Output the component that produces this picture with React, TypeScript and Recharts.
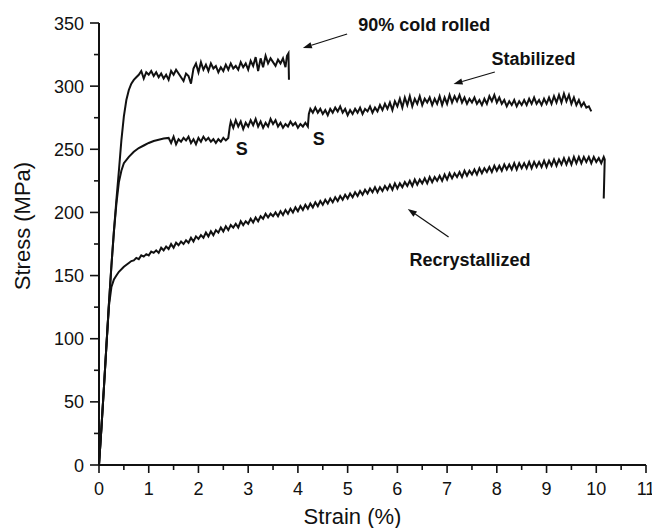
import React from 'react';
import { LineChart, Line, XAxis, YAxis, ReferenceDot, ReferenceLine } from 'recharts';

// [strain %, stress MPa]
const coldRolled: [number, number][] = [
  [0, 0], [0.05, 30], [0.1, 62], [0.15, 95], [0.2, 128], [0.25, 158], [0.3, 185], [0.35, 210], [0.4, 233],
  [0.45, 257], [0.5, 276], [0.55, 289], [0.6, 297], [0.65, 302], [0.7, 305], [0.75, 307], [0.8, 309],
  [0.85, 312], [0.9, 306], [0.95, 311], [1.0, 309], [1.05, 312], [1.1, 308], [1.15, 311], [1.2, 307],
  [1.25, 310], [1.3, 306], [1.35, 309], [1.4, 305], [1.45, 312], [1.5, 309], [1.55, 313], [1.6, 310],
  [1.65, 307], [1.7, 304], [1.75, 310], [1.8, 308], [1.85, 302], [1.9, 314], [1.95, 318], [2.0, 311],
  [2.05, 319], [2.1, 313], [2.15, 317], [2.2, 312], [2.25, 318], [2.3, 314], [2.35, 316], [2.4, 311],
  [2.45, 315], [2.5, 312], [2.55, 317], [2.6, 313], [2.65, 318], [2.7, 314], [2.75, 316], [2.8, 313],
  [2.85, 319], [2.9, 315], [2.95, 318], [3.0, 313], [3.05, 320], [3.1, 316], [3.15, 323], [3.2, 312],
  [3.25, 322], [3.3, 315], [3.35, 324], [3.4, 318], [3.45, 322], [3.5, 319], [3.55, 316], [3.6, 321],
  [3.65, 318], [3.7, 322], [3.75, 315], [3.78, 324], [3.81, 326], [3.82, 305],
];

const stabilized: [number, number][] = [
  [0, 0], [0.05, 30], [0.1, 62], [0.15, 95], [0.2, 128], [0.25, 158], [0.3, 185], [0.35, 207], [0.4, 224],
  [0.45, 233], [0.5, 239], [0.6, 244], [0.7, 248], [0.8, 251], [0.9, 253], [1.0, 255], [1.1, 256.5],
  [1.2, 257.5], [1.3, 258.5], [1.4, 259],
  [1.45, 255], [1.5, 260], [1.55, 254], [1.6, 258], [1.65, 256], [1.7, 259], [1.75, 257], [1.8, 260],
  [1.85, 255], [1.9, 258], [1.95, 254], [2.0, 259], [2.05, 256], [2.1, 260], [2.15, 257], [2.2, 259],
  [2.25, 256], [2.3, 258], [2.35, 255], [2.4, 258], [2.45, 256], [2.5, 259], [2.55, 257], [2.6, 259],
  [2.63, 268], [2.65, 272], [2.7, 267], [2.75, 273], [2.8, 268], [2.85, 272], [2.9, 266], [2.95, 271],
  [3.0, 268], [3.05, 273], [3.1, 269], [3.15, 274], [3.2, 268], [3.25, 272], [3.3, 267], [3.35, 271],
  [3.4, 268], [3.45, 274], [3.5, 270], [3.55, 273], [3.6, 268], [3.65, 271], [3.7, 267], [3.75, 270],
  [3.8, 268], [3.85, 272], [3.9, 269], [3.95, 271], [4.0, 267], [4.05, 270], [4.1, 268], [4.15, 271],
  [4.2, 268], [4.22, 278], [4.25, 282], [4.3, 279], [4.35, 283], [4.4, 279], [4.45, 282], [4.5, 278],
  [4.55, 281], [4.6, 277], [4.65, 282], [4.7, 279], [4.75, 283], [4.8, 280], [4.85, 284], [4.9, 279],
  [4.95, 282], [5.0, 277], [5.05, 281], [5.1, 278], [5.15, 282], [5.2, 279], [5.25, 283], [5.3, 278],
  [5.35, 282], [5.4, 280], [5.45, 284], [5.5, 279], [5.55, 283], [5.6, 280], [5.65, 285], [5.7, 281],
  [5.75, 286], [5.8, 282], [5.85, 287], [5.9, 281], [5.95, 288], [6.0, 284], [6.05, 290], [6.1, 283],
  [6.15, 291], [6.2, 285], [6.25, 292], [6.3, 284], [6.35, 290], [6.4, 286], [6.45, 292], [6.5, 285],
  [6.55, 290], [6.6, 287], [6.65, 291], [6.7, 285], [6.75, 290], [6.8, 286], [6.85, 292], [6.9, 285],
  [6.95, 291], [7.0, 286], [7.05, 293], [7.1, 287], [7.15, 292], [7.2, 288], [7.25, 293], [7.3, 287],
  [7.35, 291], [7.4, 286], [7.45, 290], [7.5, 287], [7.55, 291], [7.6, 286], [7.65, 289], [7.7, 285],
  [7.75, 290], [7.8, 286], [7.85, 292], [7.9, 288], [7.95, 293], [8.0, 287], [8.05, 291], [8.1, 286],
  [8.15, 289], [8.2, 284], [8.25, 288], [8.3, 285], [8.35, 289], [8.4, 284], [8.45, 288], [8.5, 285],
  [8.55, 289], [8.6, 285], [8.65, 290], [8.7, 286], [8.75, 291], [8.8, 286], [8.85, 289], [8.9, 285],
  [8.95, 290], [9.0, 286], [9.05, 291], [9.1, 286], [9.15, 292], [9.2, 287], [9.25, 293], [9.3, 287],
  [9.35, 294], [9.4, 288], [9.45, 293], [9.5, 286], [9.55, 291], [9.6, 285], [9.65, 289], [9.7, 284],
  [9.75, 287], [9.8, 283], [9.85, 284], [9.9, 280],
];

const recrystallized: [number, number][] = [
  [0, 0], [0.05, 30], [0.1, 62], [0.15, 95], [0.2, 126], [0.25, 141], [0.3, 147], [0.35, 150], [0.4, 153],
  [0.5, 157], [0.6, 160],
  [0.65, 161.5], [0.7, 162], [0.75, 164], [0.8, 163], [0.85, 166], [0.9, 165], [0.95, 167], [1.0, 166],
  [1.05, 169], [1.1, 168], [1.15, 170], [1.2, 168], [1.25, 172], [1.3, 170], [1.35, 173], [1.4, 171],
  [1.45, 175], [1.5, 172], [1.55, 176], [1.6, 174], [1.65, 177], [1.7, 175], [1.75, 178], [1.8, 176],
  [1.85, 180], [1.9, 177], [1.95, 181], [2.0, 179], [2.05, 182], [2.1, 180], [2.15, 184], [2.2, 181],
  [2.25, 185], [2.3, 182], [2.35, 186], [2.4, 184], [2.45, 188], [2.5, 185], [2.55, 189], [2.6, 186],
  [2.65, 190], [2.7, 188], [2.75, 191], [2.8, 188], [2.85, 193], [2.9, 190], [2.95, 193], [3.0, 191],
  [3.05, 195], [3.1, 192], [3.15, 196], [3.2, 193], [3.25, 197], [3.3, 195], [3.35, 199], [3.4, 196],
  [3.45, 199], [3.5, 197], [3.55, 200], [3.6, 197], [3.65, 201], [3.7, 198], [3.75, 202], [3.8, 199],
  [3.85, 203], [3.9, 200], [3.95, 204], [4.0, 201], [4.05, 205], [4.1, 202], [4.15, 206], [4.2, 203],
  [4.25, 207], [4.3, 204], [4.35, 208], [4.4, 205], [4.45, 209], [4.5, 206], [4.55, 210], [4.6, 207],
  [4.65, 211], [4.7, 208], [4.75, 212], [4.8, 209], [4.85, 213], [4.9, 210], [4.95, 214], [5.0, 211],
  [5.05, 215], [5.1, 212], [5.15, 216], [5.2, 213], [5.25, 217], [5.3, 214], [5.35, 218], [5.4, 215],
  [5.45, 219], [5.5, 216], [5.55, 220], [5.6, 216], [5.65, 220], [5.7, 217], [5.75, 221], [5.8, 218],
  [5.85, 222], [5.9, 218], [5.95, 223], [6.0, 219], [6.05, 223], [6.1, 220], [6.15, 224], [6.2, 221],
  [6.25, 225], [6.3, 221], [6.35, 226], [6.4, 222], [6.45, 226], [6.5, 223], [6.55, 227], [6.6, 223],
  [6.65, 228], [6.7, 224], [6.75, 228], [6.8, 225], [6.85, 229], [6.9, 225], [6.95, 230], [7.0, 226],
  [7.05, 231], [7.1, 227], [7.15, 231], [7.2, 228], [7.25, 232], [7.3, 228], [7.35, 233], [7.4, 229],
  [7.45, 233], [7.5, 230], [7.55, 234], [7.6, 230], [7.65, 235], [7.7, 231], [7.75, 235], [7.8, 232],
  [7.85, 236], [7.9, 232], [7.95, 237], [8.0, 233], [8.05, 237], [8.1, 233], [8.15, 238], [8.2, 234],
  [8.25, 238], [8.3, 234], [8.35, 239], [8.4, 234], [8.45, 239], [8.5, 235], [8.55, 239], [8.6, 235],
  [8.65, 240], [8.7, 235], [8.75, 240], [8.8, 236], [8.85, 240], [8.9, 236], [8.95, 241], [9.0, 236],
  [9.05, 241], [9.1, 237], [9.15, 242], [9.2, 237], [9.25, 242], [9.3, 238], [9.35, 243], [9.4, 238],
  [9.45, 243], [9.5, 238], [9.55, 244], [9.6, 239], [9.65, 244], [9.7, 239], [9.75, 244], [9.8, 240],
  [9.85, 244], [9.9, 239], [9.95, 244], [10.0, 240], [10.05, 243], [10.1, 239], [10.15, 244], [10.17, 242],
  [10.15, 211],
];

const xTicks = [0, 0.5, 1, 1.5, 2, 2.5, 3, 3.5, 4, 4.5, 5, 5.5, 6, 6.5, 7, 7.5, 8, 8.5, 9, 9.5, 10, 10.5, 11];
const yTicks = [0, 25, 50, 75, 100, 125, 150, 175, 200, 225, 250, 275, 300, 325, 350];

const xTitle = 'Strain (%)';
const yTitle = 'Stress (MPa)';

// annotation text: [label, strain, stress]
const textNotes: [string, number, number][] = [
  ['90% cold rolled', 6.54, 343.6],
  ['Stabilized', 8.74, 316.7],
  ['Recrystallized', 7.46, 157.6],
  ['S', 2.87, 245.4],
  ['S', 4.42, 253.4],
];

// arrows: [tailStrain, tailStress, headStrain, headStress]
const arrows: [number, number, number, number][] = [
  [4.99, 341.3, 4.1, 330.2],
  [7.96, 311.2, 7.13, 301.7],
  [7.03, 180.5, 6.21, 202.7],
];

const toPts = (a: [number, number][]) => a.map(([x, y]) => ({ x, y }));

const FONT = '"Liberation Sans", Arial, Helvetica, sans-serif';
const INK = '#111';

const XTick = (props: any) => {
  const { x, y, payload } = props;
  const v = payload.value;
  const major = Number.isInteger(v);
  return (
    <g>
      <line x1={x} y1={y} x2={x} y2={y + (major ? 8 : 5)} stroke={INK} strokeWidth={1.6} />
      {major && (
        <text x={x} y={y + 30} textAnchor="middle" fontFamily={FONT} fontSize={18} fill={INK}>
          {v}
        </text>
      )}
    </g>
  );
};

const YTick = (props: any) => {
  const { x, y, payload } = props;
  const v = payload.value;
  const major = v % 50 === 0;
  return (
    <g>
      <line x1={x} y1={y} x2={x - (major ? 9 : 5)} y2={y} stroke={INK} strokeWidth={1.6} />
      {major && (
        <text x={x - 15} y={y + 6.5} textAnchor="end" fontFamily={FONT} fontSize={18} fill={INK}>
          {v}
        </text>
      )}
    </g>
  );
};

const Arrow = (props: any) => {
  const { x1, y1, x2, y2 } = props;
  const dx = x2 - x1;
  const dy = y2 - y1;
  const len = Math.sqrt(dx * dx + dy * dy) || 1;
  const ux = dx / len;
  const uy = dy / len;
  const hl = 9;
  const hw = 3.2;
  const bx = x2 - ux * hl;
  const by = y2 - uy * hl;
  const pts = `${x2},${y2} ${bx - uy * hw},${by + ux * hw} ${bx + uy * hw},${by - ux * hw}`;
  return (
    <g>
      <line x1={x1} y1={y1} x2={bx} y2={by} stroke={INK} strokeWidth={1.2} />
      <polygon points={pts} fill={INK} />
    </g>
  );
};

export default function App() {
  return (
    <div style={{ position: 'absolute', left: 0, top: 0, width: 652, height: 528, background: '#fff' }}>
      <LineChart width={652} height={528} margin={{ top: 23, right: 6, bottom: 33, left: 0 }}>
        <XAxis
          type="number"
          dataKey="x"
          domain={[0, 11]}
          ticks={xTicks}
          interval={0}
          allowDecimals
          tickSize={0}
          tickMargin={0}
          tickLine={false}
          tick={<XTick />}
          height={30}
          axisLine={{ stroke: INK, strokeWidth: 2 }}
          label={{
            content: (p: any) => {
              const vb = p.viewBox;
              return (
                <text x={vb.x + vb.width / 2 - 20} y={vb.y + 59} textAnchor="middle" fontFamily={FONT} fontSize={22} fill={INK}>
                  {xTitle}
                </text>
              );
            },
          }}
        />
        <YAxis
          type="number"
          dataKey="y"
          domain={[0, 350]}
          ticks={yTicks}
          interval={0}
          tickSize={0}
          tickMargin={0}
          tickLine={false}
          tick={<YTick />}
          width={99}
          axisLine={{ stroke: INK, strokeWidth: 2 }}
          label={{
            content: (p: any) => {
              const vb = p.viewBox;
              const cx = vb.x + 22;
              const cy = vb.y + vb.height / 2 - 18;
              return (
                <text
                  x={cx}
                  y={cy}
                  transform={`rotate(-90, ${cx}, ${cy})`}
                  textAnchor="middle"
                  dominantBaseline="central"
                  fontFamily={FONT}
                  fontSize={22}
                  fill={INK}
                >
                  {yTitle}
                </text>
              );
            },
          }}
        />
        <Line data={toPts(recrystallized)} dataKey="y" type="linear" stroke={INK} strokeWidth={2} dot={false} isAnimationActive={false} />
        <Line data={toPts(stabilized)} dataKey="y" type="linear" stroke={INK} strokeWidth={2} dot={false} isAnimationActive={false} />
        <Line data={toPts(coldRolled)} dataKey="y" type="linear" stroke={INK} strokeWidth={2} dot={false} isAnimationActive={false} />
        {arrows.map(([tx, ty, hx, hy], i) => (
          <ReferenceLine
            key={`a${i}`}
            segment={[{ x: tx, y: ty }, { x: hx, y: hy }]}
            ifOverflow="visible"
            stroke={INK}
            shape={(p: any) => <Arrow {...p} />}
          />
        ))}
        {textNotes.map(([t, x, y], i) => (
          <ReferenceDot
            key={`t${i}`}
            x={x}
            y={y}
            r={0}
            ifOverflow="visible"
            shape={(p: any) => (
              <text x={p.cx} y={p.cy} textAnchor="middle" fontFamily={FONT} fontSize={18} fontWeight="bold" fill={INK}>
                {t}
              </text>
            )}
          />
        ))}
      </LineChart>
    </div>
  );
}
